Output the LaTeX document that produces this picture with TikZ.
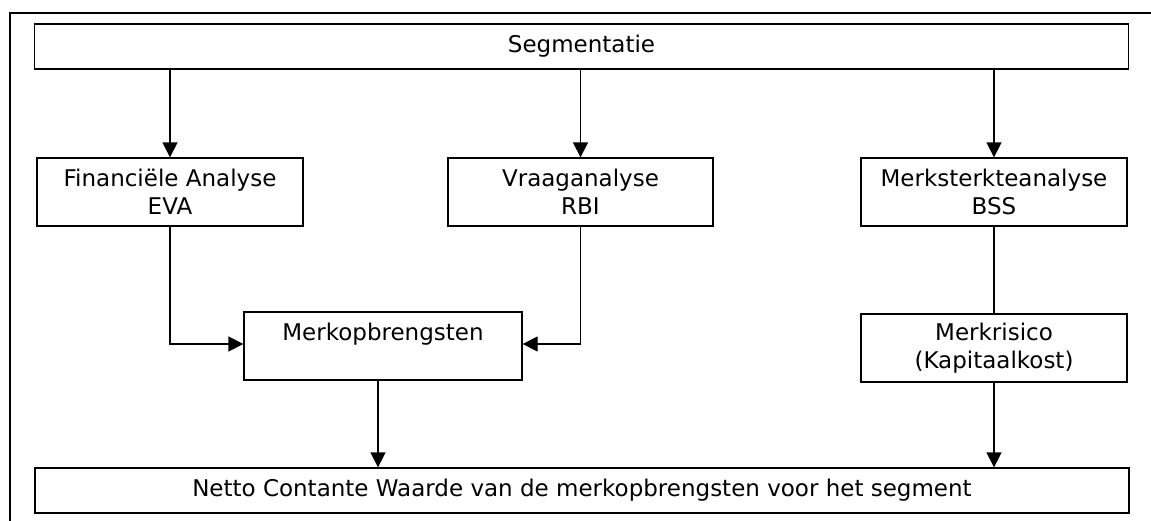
\documentclass[tikz,border=0pt]{standalone}
\usepackage{fontspec}
\setmainfont{DejaVu Sans}
\usetikzlibrary{arrows.meta,positioning}
\begin{document}
\begin{tikzpicture}[x=1pt,y=-1pt,
  box/.style={draw=black, line width=1.3pt, inner sep=0pt, align=center,
    font=\fontsize{23}{28}\selectfont},
  arr/.style={line width=1.3pt, -{Triangle[width=15pt,length=15pt]}},
  ln/.style={line width=1.3pt}]
\useasboundingbox (0,0) rectangle (1151,520);
% outer frame (only top and left edge visible)
\draw[ln] (10,530) -- (10,13) -- (1160,13);
% boxes
\node[box, minimum width=1094pt, minimum height=45pt] (seg) at (581.5,46.5) {Segmentatie};
\node[box, minimum width=266pt, minimum height=68pt] (fin) at (170,192) {Financiële Analyse\\EVA};
\node[box, minimum width=265pt, minimum height=68pt] (vraag) at (580.5,192) {Vraaganalyse\\RBI};
\node[box, minimum width=266pt, minimum height=68pt] (merk) at (994,192) {Merksterkteanalyse\\BSS};
\node[box, minimum width=278pt, text height=28.5pt, text depth=39.5pt] (opb) at (383,346) {Merkopbrengsten};
\node[box, minimum width=266pt, minimum height=68pt] (risico) at (994,348) {Merkrisico\\(Kapitaalkost)};
\node[box, minimum width=1094pt, minimum height=45pt] (ncw) at (582,490.5) {Netto Contante Waarde van de merkopbrengsten voor het segment};
% connectors
\draw[arr] (fin.north |- seg.south) -- (fin.north);
\draw[arr] (vraag.north |- seg.south) -- (vraag.north);
\draw[arr] (merk.north |- seg.south) -- (merk.north);
\draw[arr] (fin.south) |- ([yshift=2pt]opb.west);
\draw[arr] (vraag.south) |- ([yshift=2pt]opb.east);
\draw[ln] (merk.south) -- (risico.north);
\draw[arr] ([xshift=-5pt]opb.south) -- ([xshift=-5pt]opb.south |- ncw.north);
\draw[arr] (risico.south) -- (risico.south |- ncw.north);
\end{tikzpicture}
\end{document}
